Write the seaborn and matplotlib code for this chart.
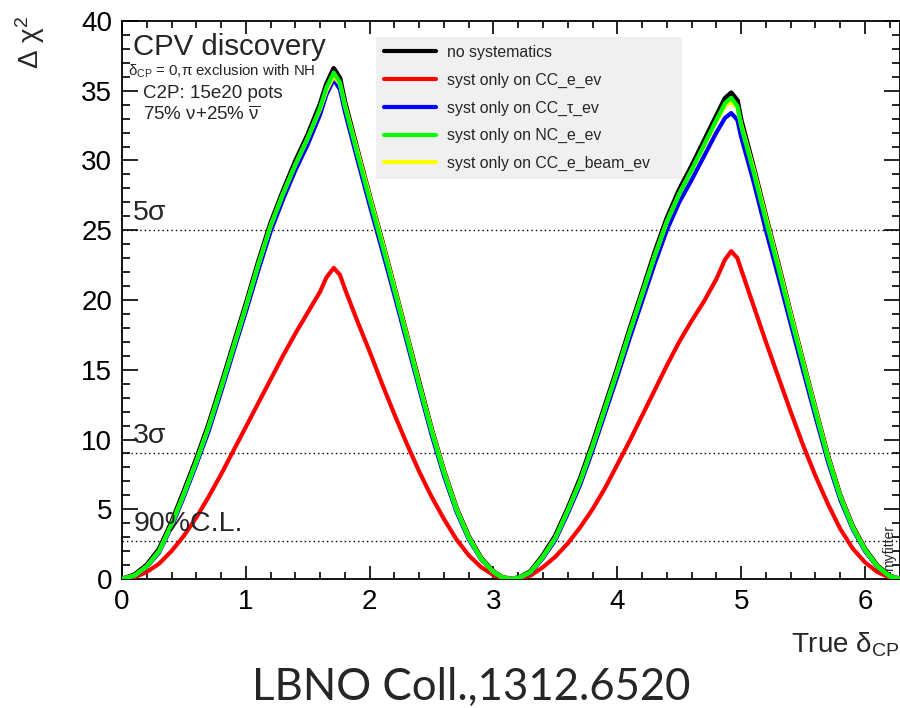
import numpy as np
import pandas as pd
import matplotlib
matplotlib.use("Agg")
import matplotlib.pyplot as plt
import seaborn as sns
from matplotlib.ticker import MultipleLocator
from matplotlib.lines import Line2D

# ---------------- data ----------------
delta_cp = [0.0, 0.1, 0.2, 0.3, 0.4, 0.5, 0.6, 0.7, 0.8, 0.9, 1.0, 1.1, 1.2, 1.3, 1.4, 1.5,
            1.6, 1.65, 1.71, 1.76, 1.8, 1.9, 2.0, 2.1, 2.2, 2.3, 2.4, 2.5, 2.6, 2.7, 2.8, 2.9,
            3.0, 3.07, 3.14, 3.21, 3.3, 3.4, 3.5, 3.6, 3.7, 3.8, 3.9, 4.0, 4.1, 4.2, 4.3, 4.4,
            4.5, 4.6, 4.7, 4.8, 4.87, 4.92, 4.97, 5.0, 5.1, 5.2, 5.3, 5.4, 5.5, 5.6, 5.7, 5.8,
            5.9, 6.0, 6.1, 6.2, 6.283]

chi2_nosyst = [0, 0.3, 1.0, 2.15, 4.05, 6.3, 8.6, 11.1, 13.9, 16.8, 19.7, 22.7, 25.5, 27.8, 29.95, 31.85,
               34.05, 35.45, 36.6, 35.9, 34.2, 30.8, 27.45, 24.25, 20.9, 17.5, 14.1, 10.75, 7.75, 5.1, 3.05, 1.5,
               0.52, 0.13, 0, 0.11, 0.55, 1.7, 3.1, 5.05, 7.2, 9.7, 12.4, 15.1, 17.9, 20.6, 23.35, 25.85,
               27.9, 29.6, 31.4, 33.2, 34.45, 34.85, 34.3, 32.9, 29.55, 26.0, 22.6, 19.05, 15.6, 12.2, 8.85, 6.0,
               3.8, 2.15, 0.95, 0.22, 0]

chi2_cc_e = [0, 0.12, 0.5, 1.1, 2.0, 3.1, 4.4, 5.9, 7.5, 9.2, 10.9, 12.6, 14.3, 16.0, 17.6, 19.1,
             20.6, 21.6, 22.3, 21.8, 20.8, 18.5, 16.3, 14.0, 11.8, 9.7, 7.7, 5.9, 4.3, 2.85, 1.7, 0.85,
             0.28, 0.07, 0, 0.05, 0.25, 0.85, 1.6, 2.55, 3.7, 5.0, 6.5, 8.2, 9.9, 11.7, 13.5, 15.3,
             17.0, 18.5, 19.9, 21.5, 22.9, 23.5, 23.0, 22.2, 19.6, 17.0, 14.5, 12.0, 9.6, 7.4, 5.4, 3.6,
             2.2, 1.2, 0.5, 0.1, 0]

chi2_cc_tau = [0, 0.22, 0.85, 1.9, 3.75, 5.9, 8.2, 10.6, 13.4, 16.3, 19.15, 22.1, 24.9, 27.2, 29.3, 31.15,
               33.3, 34.7, 35.8, 35.1, 33.5, 30.1, 26.8, 23.6, 20.35, 17.0, 13.65, 10.35, 7.4, 4.85, 2.85, 1.4,
               0.48, 0.11, 0, 0.09, 0.45, 1.5, 2.8, 4.7, 6.75, 9.2, 11.85, 14.5, 17.25, 19.9, 22.55, 25.0,
               27.0, 28.6, 30.3, 32.0, 33.05, 33.4, 32.9, 31.7, 28.5, 25.0, 21.7, 18.3, 14.95, 11.65, 8.45, 5.7,
               3.6, 2.0, 0.85, 0.19, 0]

chi2_nc_e = [0, 0.25, 0.9, 2.0, 3.9, 6.1, 8.4, 10.9, 13.7, 16.6, 19.5, 22.5, 25.3, 27.6, 29.7, 31.6,
             33.8, 35.2, 36.3, 35.6, 33.9, 30.5, 27.2, 24.0, 20.7, 17.3, 13.9, 10.6, 7.6, 5.0, 2.95, 1.45,
             0.5, 0.12, 0, 0.1, 0.5, 1.6, 2.95, 4.9, 7.0, 9.5, 12.2, 14.9, 17.7, 20.4, 23.1, 25.6,
             27.6, 29.3, 31.1, 32.9, 34.1, 34.5, 33.9, 32.5, 29.2, 25.7, 22.3, 18.8, 15.4, 12.0, 8.7, 5.9,
             3.7, 2.1, 0.9, 0.2, 0]

chi2_cc_e_beam = [0, 0.25, 0.9, 2.0, 3.9, 6.1, 8.4, 10.9, 13.7, 16.6, 19.5, 22.5, 25.3, 27.6, 29.7, 31.6,
                  33.7, 35.0, 36.05, 35.5, 34.0, 30.7, 27.4, 24.2, 20.85, 17.45, 14.0, 10.7, 7.7, 5.05, 3.0, 1.45,
                  0.5, 0.12, 0, 0.1, 0.5, 1.6, 2.95, 4.9, 7.0, 9.5, 12.2, 14.9, 17.7, 20.4, 23.1, 25.6,
                  27.6, 29.3, 31.0, 32.8, 33.9, 34.2, 33.8, 32.6, 29.4, 25.9, 22.5, 19.0, 15.55, 12.15, 8.8, 5.95,
                  3.75, 2.1, 0.9, 0.2, 0]

series_labels = ["no systematics", "syst only on CC_e_ev", "syst only on CC_\u03c4_ev",
                 "syst only on NC_e_ev", "syst only on CC_e_beam_ev"]
series_colors = ["#000000", "#ff0000", "#0000ff", "#00ff00", "#ffff00"]

cl_levels = [25.0, 9.0, 2.71]
cl_labels = ["5\u03c3", "3\u03c3", "90%C.L."]

# ---------------- style ----------------
sns.set_theme(style="ticks")
plt.rcParams["font.family"] = ["Liberation Sans", "DejaVu Sans"]
plt.rcParams["mathtext.fontset"] = "custom"
plt.rcParams["mathtext.rm"] = "Liberation Sans"
plt.rcParams["mathtext.it"] = "Liberation Sans:italic"
plt.rcParams["mathtext.bf"] = "Liberation Sans:bold"

fig = plt.figure(figsize=(9, 7.08), dpi=100)
ax = fig.add_axes([122 / 900, 1 - 579 / 708, 1 - 122 / 900, (579 - 21) / 708])

all_series = [chi2_nosyst, chi2_cc_e, chi2_cc_tau, chi2_nc_e, chi2_cc_e_beam]
draw_order = [0, 1, 2, 4, 3]
for i in draw_order:
    d = pd.DataFrame({"delta": delta_cp, "chi2": all_series[i]})
    sns.lineplot(data=d, x="delta", y="chi2", color=series_colors[i], lw=3.5 if i == 0 else 3.0,
                 sort=False, estimator=None, ax=ax, legend=False, zorder=3 + draw_order.index(i),
                 solid_joinstyle="round", solid_capstyle="round")

for lev, lab in zip(cl_levels, cl_labels):
    ax.axhline(lev, color="black", lw=1.0, ls=(0, (1, 2.2)), zorder=2)
    ax.text(0.09, lev + 0.3, lab, fontsize=20.5, ha="left", va="bottom", zorder=10)

ax.set_xlim(0, 2 * np.pi)
ax.set_ylim(0, 40)
ax.set_xlabel("")
ax.set_ylabel("")
ax.xaxis.set_major_locator(MultipleLocator(1))
ax.xaxis.set_minor_locator(MultipleLocator(0.2))
ax.yaxis.set_major_locator(MultipleLocator(5))
ax.yaxis.set_minor_locator(MultipleLocator(1))
ax.tick_params(axis="both", which="both", direction="in", top=True, right=True, colors="black",
               width=1.2, labelsize=20)
ax.tick_params(axis="x", which="major", length=9.4, pad=7)
ax.tick_params(axis="x", which="minor", length=4.7)
ax.tick_params(axis="y", which="major", length=11.5, pad=7)
ax.tick_params(axis="y", which="minor", length=5.8)
for s in ax.spines.values():
    s.set_linewidth(1.3)
    s.set_color("black")
    s.set_visible(True)

# axis titles
fig.text(1.0, 1 - 645 / 708, "True \u03b4$_{\\mathregular{CP}}$", fontsize=20, ha="right", va="center")
fig.text(30 / 900, 1 - 16 / 708, "\u0394 \u03c7$^{\\mathregular{2}}$", fontsize=20, rotation=90,
         ha="center", va="top")

# annotations
ax.text(0.09, 37.58, "CPV discovery", fontsize=21.2, ha="left", va="baseline")
ax.text(0.05, 36.06, "\u03b4$_{\\mathregular{CP}}$ = 0,\u03c0 exclusion with NH", fontsize=10.8,
        ha="left", va="baseline")
ax.text(0.17, 34.45, "C2P: 15e20 pots", fontsize=13.5, ha="left", va="baseline")
ax.text(0.17, 32.93, "75% \u03bd+25% $\\overline{\\mathregular{\u03bd}}$", fontsize=13.5,
        ha="left", va="baseline")
ax.text(6.255, 0.6, "myfitter", fontsize=10, rotation=90, ha="right", va="bottom")

# legend
handles = [Line2D([0], [0], color=series_colors[i], lw=3.0) for i in range(5)]
leg = ax.legend(handles, series_labels, loc="upper left",
                bbox_to_anchor=(376 / 900, 1 - 37 / 708 - 0.01, 306 / 900, 0.01),
                bbox_transform=fig.transFigure,
                mode="expand", frameon=True, fancybox=False, facecolor="#f0f0f0", edgecolor="none",
                framealpha=1.0, fontsize=11.4, handlelength=3.3, handletextpad=0.7,
                labelspacing=0.8, borderpad=0.5, borderaxespad=0)
leg.set_zorder(20)

# bottom caption
fig.text(471 / 900, 1 - 700 / 708, "LBNO Coll.,1312.6520", fontsize=31.5, ha="center", va="baseline",
         family=["Lato", "DejaVu Sans"])

fig.savefig("out.png", dpi=100)
